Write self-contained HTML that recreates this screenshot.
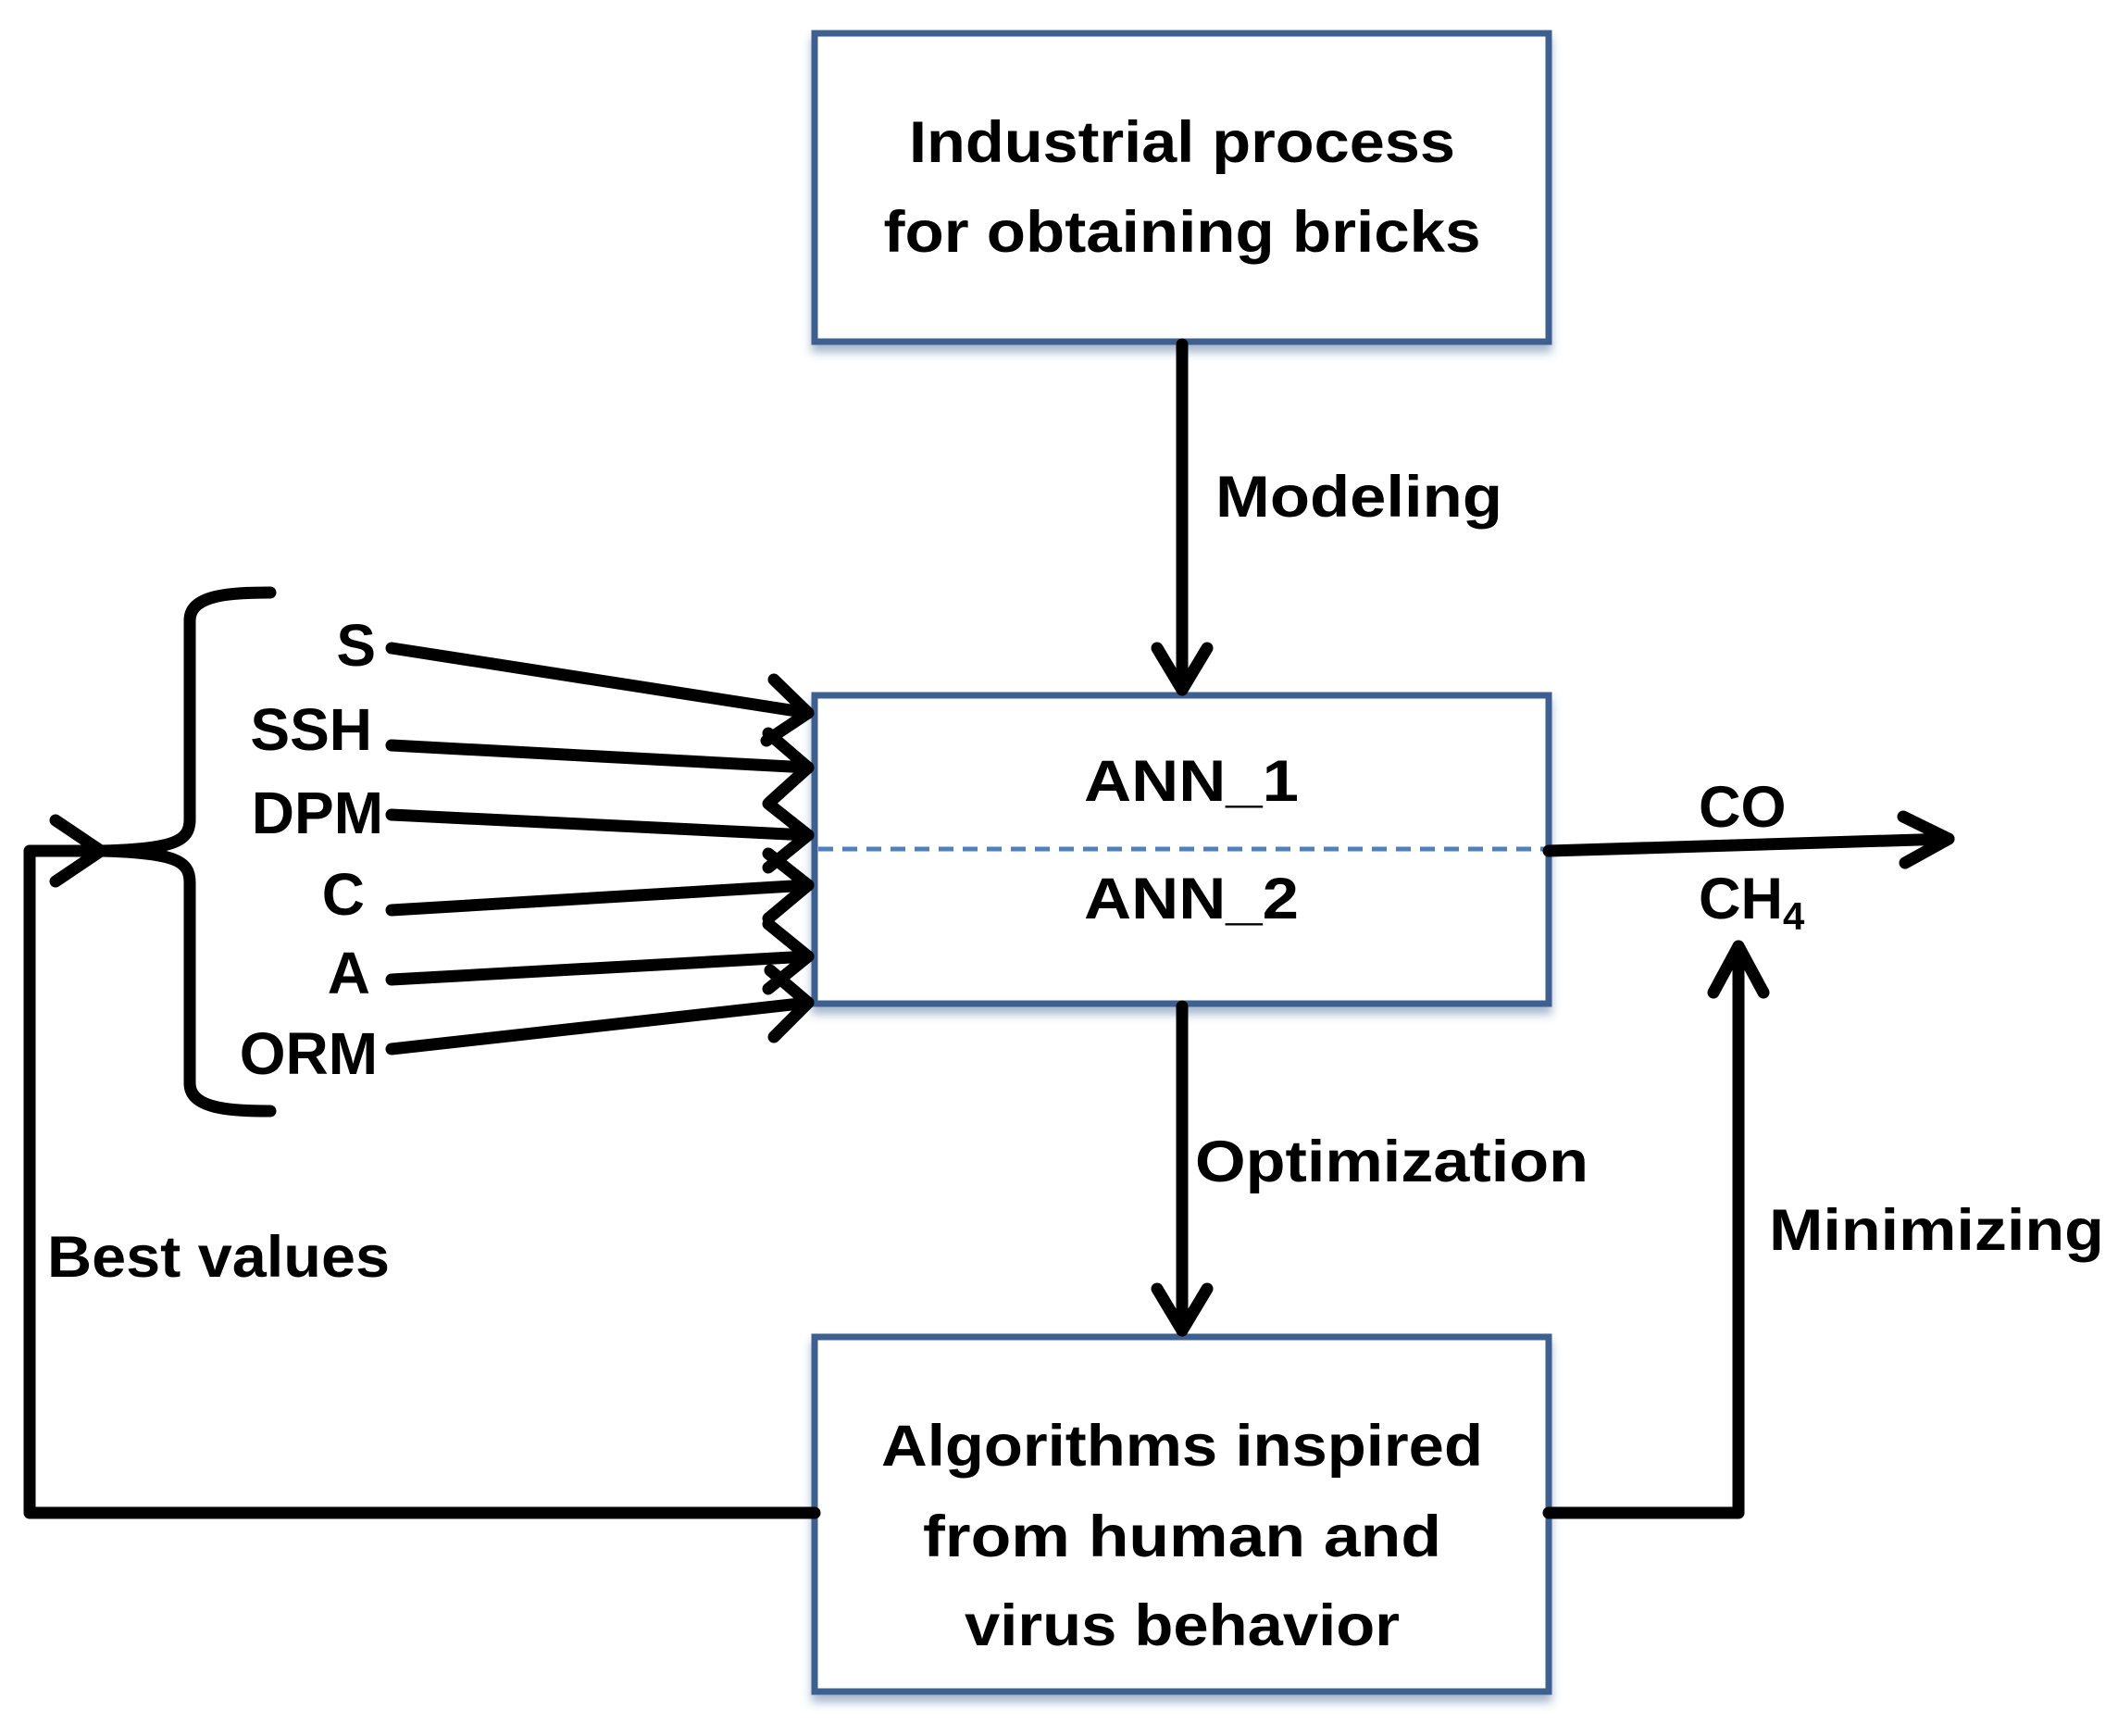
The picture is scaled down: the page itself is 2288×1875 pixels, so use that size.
<!DOCTYPE html>
<html><head><meta charset="utf-8"><style>
html,body{margin:0;padding:0;background:#fff;}
svg{display:block;}
text{font-family:"Liberation Sans",sans-serif;font-weight:bold;fill:#000;}
</style></head><body>
<svg width="2288" height="1875" viewBox="0 0 2288 1875" xmlns="http://www.w3.org/2000/svg">
<defs>
<filter id="sh" x="-5%" y="-5%" width="110%" height="115%">
<feDropShadow dx="0" dy="8" stdDeviation="5" flood-color="#3a5f8f" flood-opacity="0.45"/>
</filter>
</defs>
<g fill="#fff" stroke="#3d6190" stroke-width="7" filter="url(#sh)">
<rect x="880" y="36" width="793" height="333"/>
<rect x="880" y="751" width="793" height="333"/>
<rect x="880" y="1444" width="793" height="383"/>
</g>
<line x1="884" y1="917" x2="1669" y2="917" stroke="#4f81bd" stroke-width="5" stroke-dasharray="16,10"/>
<g stroke="#000" stroke-width="13" fill="none" stroke-linecap="round" stroke-linejoin="round">
<line x1="1277" y1="372" x2="1277" y2="745"/>
<polyline points="1250,700 1277,745 1304,700"/>
<line x1="1277" y1="1087" x2="1277" y2="1437"/>
<polyline points="1250,1392 1277,1437 1304,1392"/>
<line x1="1673" y1="919" x2="2105" y2="906"/>
<polyline points="2056,882 2105,906 2058,932"/>
<polyline points="1673,1634 1878,1634 1878,1022"/>
<polyline points="1851,1072 1878,1022 1905,1072"/>
<polyline points="880,1634 32,1634 32,919 109,919"/>
<polyline points="60,886 109,919 60,952"/>
<path d="M292,640 C250,640 205,642 205,670 L205,885 C205,908 190,917 109,919 C190,921 205,930 205,953 L205,1170 C205,1198 250,1200 292,1200"/>
<line x1="423" y1="700" x2="873" y2="770"/>
<polyline points="836,734 873,770 828,800"/>
<line x1="423" y1="805" x2="873" y2="829"/>
<polyline points="830,792 873,829 832,866"/>
<line x1="423" y1="880" x2="873" y2="902"/>
<polyline points="830,868 873,902 830,937"/>
<line x1="423" y1="983" x2="873" y2="956"/>
<polyline points="830,922 873,956 830,992"/>
<line x1="423" y1="1058" x2="873" y2="1033"/>
<polyline points="830,998 873,1033 830,1068"/>
<line x1="423" y1="1133" x2="873" y2="1083"/>
<polyline points="832,1048 873,1083 836,1120"/>
</g>
<g font-size="63" text-anchor="middle">
<text x="1277" y="175" textLength="590" lengthAdjust="spacingAndGlyphs">Industrial process</text>
<text x="1277" y="272" textLength="645" lengthAdjust="spacingAndGlyphs">for obtaining bricks</text>
<text x="1287" y="865" textLength="232" lengthAdjust="spacingAndGlyphs">ANN_1</text>
<text x="1287" y="992" textLength="232" lengthAdjust="spacingAndGlyphs">ANN_2</text>
<text x="1277" y="1583" textLength="650" lengthAdjust="spacingAndGlyphs">Algorithms inspired</text>
<text x="1277" y="1681" textLength="560" lengthAdjust="spacingAndGlyphs">from human and</text>
<text x="1277" y="1777" textLength="470" lengthAdjust="spacingAndGlyphs">virus behavior</text>
</g>
<g font-size="63">
<text x="1313" y="558" textLength="310" lengthAdjust="spacingAndGlyphs">Modeling</text>
<text x="1291" y="1276" textLength="425" lengthAdjust="spacingAndGlyphs">Optimization</text>
<text x="1911" y="1350" textLength="362" lengthAdjust="spacingAndGlyphs">Minimizing</text>
<text x="51" y="1379" textLength="370" lengthAdjust="spacingAndGlyphs">Best values</text>
<text x="1835" y="893">CO</text>
<text x="1835" y="992">CH<tspan font-size="42" dy="12">4</tspan></text>
</g>
<g font-size="64" text-anchor="end">
<text x="406" y="719">S</text>
<text x="402" y="810">SSH</text>
<text x="414" y="900">DPM</text>
<text x="394" y="988">C</text>
<text x="400" y="1073">A</text>
<text x="408" y="1160">ORM</text>
</g>
</svg>
</body></html>
